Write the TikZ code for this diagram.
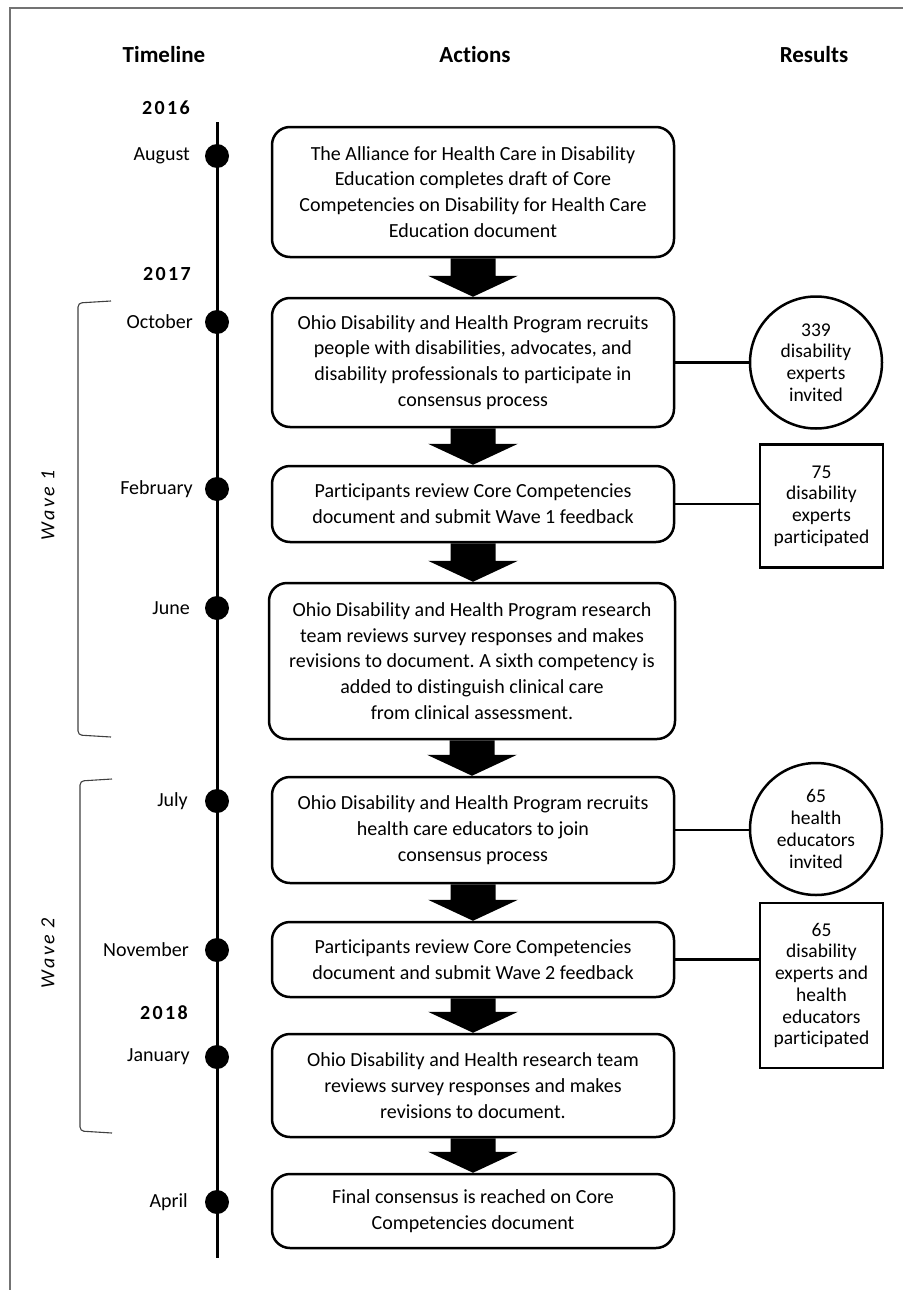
\documentclass[tikz,border=0pt]{standalone}
\usepackage{fontspec}
\setmainfont{Carlito}[Ligatures=NoCommon]
\newfontfamily\spacedfont[LetterSpace=12,Ligatures=NoCommon]{Carlito}
\newfontfamily\wavefont[LetterSpace=12,Ligatures=NoCommon]{Carlito}
\usetikzlibrary{calc}
\frenchspacing
\newcommand\blockarrow[2]{\fill let \p1=(#1.south), \p2=(#2.north) in
  (\x1-22.5pt,\y1) -- (\x1+22.5pt,\y1) -- (\x1+22.5pt,\y2+21pt) -- (\x1+45pt,\y2+21pt)
  -- (\x1,\y2) -- (\x1-45pt,\y2+21pt) -- (\x1-22.5pt,\y2+21pt) -- cycle;}
\begin{document}
\begin{tikzpicture}[x=1pt,y=-1pt,
  actbox/.style={draw, line width=2.5pt, rounded corners=18pt, minimum width=402pt,
    align=center, inner sep=0pt, font=\fontsize{20}{25.8}\selectfont},
  resc/.style={circle, draw, line width=2.5pt, minimum size=132pt, inner sep=0pt,
    align=center, font=\fontsize{19.5}{21.7}\selectfont},
  resr/.style={draw, line width=2.5pt, minimum width=123pt, inner sep=0pt,
    align=center, font=\fontsize{19.5}{21.7}\selectfont},
  link/.style={line width=2.5pt},
  dot/.style={circle, fill, minimum size=24pt, inner sep=0pt},
  month/.style={anchor=east, inner sep=0pt, font=\fontsize{20}{24}\selectfont},
  year/.style={inner sep=0pt, font=\spacedfont\bfseries\fontsize{20}{24}\selectfont},
  header/.style={anchor=base, inner sep=0pt, font=\bfseries\fontsize{23}{28}\selectfont},
  wave/.style={rotate=90, inner sep=0pt, font=\wavefont\itshape\fontsize{20}{24}\selectfont},
  bracket/.style={draw=black!75, line width=1.1pt, rounded corners=4pt},
  frame/.style={draw=black!55, line width=1.5pt}]
\useasboundingbox (0,0) rectangle (903,1290);
% frame
\draw[frame] (10,1290) -- (10,8) -- (903,8);
% headers
\node[header] (hT) at (164,63) {Timeline};
\node[header] (hA) at (475,63) {Actions};
\node[header] (hR) at (814,63) {Results};
% years
\node[year] (y16) at (166,108) {2016};
\node[year] (y17) at (167,274) {2017};
\node[year] (y18) at (164,1013) {2018};
% timeline
\coordinate (tltop) at (217,122);
\coordinate (tlbot) at (217,1258);
\draw[line width=3pt] (tltop) -- (tlbot);
\node[dot] (d1) at (217,156) {};
\node[dot] (d2) at (217,322) {};
\node[dot] (d3) at (217,489) {};
\node[dot] (d4) at (217,608) {};
\node[dot] (d5) at (217,801) {};
\node[dot] (d6) at (217,950) {};
\node[dot] (d7) at (217,1057) {};
\node[dot] (d8) at (217,1202) {};
\node[month] (m1) at (190,156) {August};
\node[month] (m2) at (193,322) {October};
\node[month] (m3) at (193,489) {February};
\node[month] (m4) at (190,608) {June};
\node[month] (m5) at (188,801) {July};
\node[month] (m6) at (189,950) {November};
\node[month] (m7) at (190,1057) {January};
\node[month] (m8) at (188,1202) {April};
% brackets
\draw[bracket] (111,301) -- (78,303) -- (78,735) -- (111,737);
\draw[bracket] (112,779) -- (80,781) -- (80,1131) -- (112,1133);
\node[wave] (w1) at (48,505) {Wave 1};
\node[wave] (w2) at (48,953) {Wave 2};
% action boxes
\node[actbox, minimum height=130pt] (b1) at (473,192) {The Alliance for Health Care in Disability\\Education completes draft of Core\\Competencies on Disability for Health Care\\Education document};
\node[actbox, minimum height=129pt] (b2) at (473,362.5) {Ohio Disability and Health Program recruits\\people with disabilities, advocates, and\\disability professionals to participate in\\consensus process};
\node[actbox, minimum height=76pt] (b3) at (473,504) {Participants review Core Competencies\\document and submit Wave 1 feedback};
\node[actbox, minimum height=156pt, minimum width=406pt] (b4) at (472,661) {Ohio Disability and Health Program research\\team reviews survey responses and makes\\revisions to document. A sixth competency is\\added to distinguish clinical care\\from clinical assessment.};
\node[actbox, minimum height=106pt] (b5) at (473,830) {Ohio Disability and Health Program recruits\\health care educators to join\\consensus process};
\node[actbox, minimum height=75pt] (b6) at (473,959.5) {Participants review Core Competencies\\document and submit Wave 2 feedback};
\node[actbox, minimum height=103pt] (b7) at (473,1085.5) {Ohio Disability and Health research team\\reviews survey responses and makes\\revisions to document.};
\node[actbox, minimum height=74pt] (b8) at (473,1211) {Final consensus is reached on Core\\Competencies document};
% block arrows
\blockarrow{b1}{b2}
\blockarrow{b2}{b3}
\blockarrow{b3}{b4}
\blockarrow{b4}{b5}
\blockarrow{b5}{b6}
\blockarrow{b6}{b7}
\blockarrow{b7}{b8}
% results
\node[resc] (c1) at (816,362.5) {339\\disability\\experts\\invited};
\node[resr, minimum height=123pt] (r1) at (821.5,506) {75\\disability\\experts\\participated};
\node[resc] (c2) at (816,829) {65\\health\\educators\\invited};
\node[resr, minimum height=165pt] (r2) at (821.5,985.5) {65\\disability\\experts and\\health\\educators\\participated};
\draw[link] (b2.east) -- (c1.west);
\draw[link] (b3.east) -- (b3.east -| r1.west);
\draw[link] (b5.east) -- (b5.east -| c2.west);
\draw[link] (b6.east) -- (b6.east -| r2.west);
\end{tikzpicture}
\end{document}
